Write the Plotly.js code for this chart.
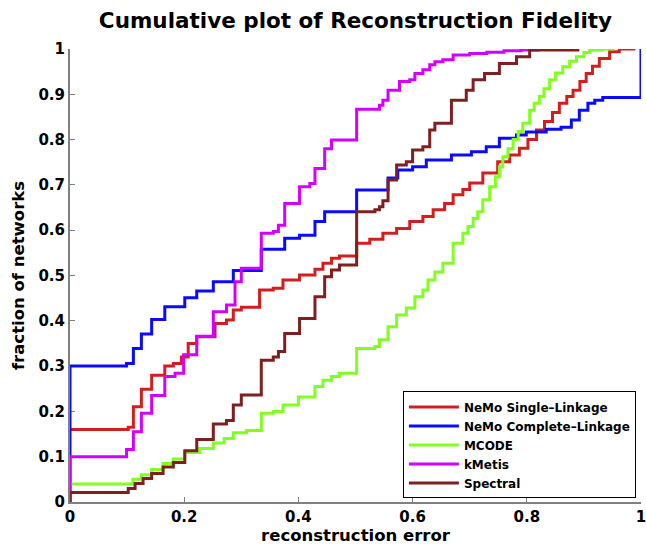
<!DOCTYPE html>
<html>
<head>
<meta charset="utf-8">
<script src="https://cdn.plot.ly/plotly-3.0.1.min.js"></script>
<style>html,body{margin:0;padding:0;background:#fff;}#chart{width:646px;height:550px;}</style>
</head>
<body>
<div id="chart"></div>
<script>
// NeMo Single-Linkage
const singleX = [0, 0.102, 0.111, 0.125, 0.143, 0.166, 0.181, 0.195, 0.207, 0.222, 0.254, 0.274, 0.286, 0.30, 0.332, 0.356, 0.373, 0.402, 0.429, 0.443, 0.458, 0.472, 0.502, 0.525, 0.548, 0.572, 0.595, 0.618, 0.636, 0.656, 0.671, 0.688, 0.70, 0.723, 0.749, 0.77, 0.787, 0.802, 0.817, 0.831, 0.845, 0.857, 0.87, 0.881, 0.893, 0.904, 0.915, 0.927, 0.945, 0.962, 0.99];
const singleY = [0.16, 0.165, 0.21, 0.249, 0.28, 0.30, 0.306, 0.32, 0.35, 0.365, 0.394, 0.402, 0.424, 0.43, 0.468, 0.472, 0.49, 0.501, 0.514, 0.527, 0.538, 0.543, 0.571, 0.58, 0.593, 0.604, 0.619, 0.63, 0.645, 0.659, 0.678, 0.69, 0.704, 0.726, 0.751, 0.766, 0.781, 0.80, 0.821, 0.84, 0.86, 0.88, 0.895, 0.909, 0.928, 0.946, 0.962, 0.979, 0.994, 1.0, 1.0];
// NeMo Complete-Linkage
const completeX = [0, 0, 0.099, 0.111, 0.125, 0.143, 0.166, 0.201, 0.222, 0.251, 0.286, 0.335, 0.376, 0.402, 0.429, 0.446, 0.502, 0.557, 0.574, 0.60, 0.624, 0.668, 0.703, 0.729, 0.752, 0.782, 0.799, 0.834, 0.86, 0.878, 0.892, 0.907, 0.919, 0.933, 1.0, 1.0];
const completeY = [0, 0.30, 0.306, 0.339, 0.371, 0.403, 0.431, 0.451, 0.466, 0.486, 0.511, 0.558, 0.582, 0.589, 0.619, 0.641, 0.689, 0.715, 0.733, 0.74, 0.755, 0.766, 0.773, 0.784, 0.803, 0.81, 0.817, 0.823, 0.827, 0.843, 0.865, 0.88, 0.887, 0.893, 0.893, 1.0];
// MCODE
const mcodeX = [0, 0.11, 0.125, 0.143, 0.163, 0.181, 0.201, 0.227, 0.251, 0.27, 0.286, 0.309, 0.335, 0.356, 0.373, 0.40, 0.429, 0.443, 0.458, 0.472, 0.502, 0.534, 0.542, 0.557, 0.572, 0.589, 0.604, 0.618, 0.627, 0.639, 0.653, 0.671, 0.688, 0.697, 0.706, 0.714, 0.723, 0.735, 0.745, 0.752, 0.758, 0.767, 0.776, 0.785, 0.793, 0.805, 0.813, 0.822, 0.83, 0.84, 0.85, 0.863, 0.875, 0.887, 0.9, 0.91, 0.933, 0.954];
const mcodeY = [0.04, 0.05, 0.06, 0.072, 0.085, 0.095, 0.109, 0.118, 0.13, 0.14, 0.153, 0.158, 0.196, 0.2, 0.214, 0.232, 0.255, 0.269, 0.277, 0.284, 0.339, 0.343, 0.358, 0.387, 0.413, 0.428, 0.453, 0.468, 0.49, 0.508, 0.527, 0.571, 0.593, 0.608, 0.626, 0.641, 0.667, 0.696, 0.718, 0.74, 0.762, 0.78, 0.80, 0.818, 0.836, 0.865, 0.88, 0.895, 0.912, 0.932, 0.947, 0.961, 0.973, 0.983, 0.992, 0.998, 1.0, 1.0];
// kMetis
const kmetisX = [0, 0, 0.099, 0.111, 0.125, 0.143, 0.166, 0.184, 0.199, 0.222, 0.251, 0.274, 0.289, 0.30, 0.335, 0.356, 0.365, 0.376, 0.402, 0.42, 0.429, 0.446, 0.458, 0.502, 0.542, 0.548, 0.557, 0.577, 0.595, 0.604, 0.618, 0.63, 0.639, 0.653, 0.671, 0.70, 0.73, 0.76, 0.79, 0.82, 0.85];
const kmetisY = [0, 0.10, 0.116, 0.155, 0.196, 0.235, 0.277, 0.284, 0.325, 0.366, 0.42, 0.435, 0.486, 0.516, 0.593, 0.597, 0.611, 0.659, 0.696, 0.703, 0.736, 0.78, 0.799, 0.867, 0.876, 0.887, 0.909, 0.928, 0.932, 0.946, 0.954, 0.965, 0.972, 0.976, 0.987, 0.99, 0.993, 0.996, 0.998, 1.0, 1.0];
// Spectral
const spectralX = [0, 0, 0.102, 0.114, 0.128, 0.143, 0.163, 0.181, 0.201, 0.222, 0.251, 0.274, 0.286, 0.30, 0.335, 0.356, 0.365, 0.376, 0.402, 0.429, 0.446, 0.458, 0.472, 0.502, 0.534, 0.542, 0.548, 0.557, 0.572, 0.589, 0.60, 0.618, 0.63, 0.639, 0.668, 0.694, 0.706, 0.726, 0.752, 0.782, 0.805, 0.892];
const spectralY = [0, 0.021, 0.03, 0.041, 0.052, 0.063, 0.077, 0.087, 0.113, 0.138, 0.172, 0.18, 0.214, 0.236, 0.313, 0.32, 0.332, 0.372, 0.405, 0.453, 0.497, 0.512, 0.523, 0.641, 0.645, 0.652, 0.665, 0.711, 0.744, 0.751, 0.777, 0.784, 0.821, 0.836, 0.887, 0.909, 0.932, 0.946, 0.968, 0.983, 0.998, 0.998];

const seriesNames = ["NeMo Single–Linkage", "NeMo Complete–Linkage", "MCODE", "kMetis", "Spectral"];
const seriesColors = ["#d41e1e", "#0a0aff", "#80ff20", "#d200ff", "#7f2020"];
const seriesX = [singleX, completeX, mcodeX, kmetisX, spectralX];
const seriesY = [singleY, completeY, mcodeY, kmetisY, spectralY];

const FONT = "'DejaVu Sans', sans-serif";

const traces = seriesNames.map((n, i) => ({
  type: "scatter", mode: "lines", name: n,
  x: seriesX[i], y: seriesY[i],
  line: {shape: "hv", color: seriesColors[i], width: 3},
  cliponaxis: false
}));

const layout = {
  width: 646, height: 550,
  margin: {l: 70, r: 5, t: 49, b: 48},
  paper_bgcolor: "#fff", plot_bgcolor: "#fff",
  font: {family: FONT, size: 15, color: "#000", weight: "bold"},
  title: {text: "Cumulative plot of Reconstruction Fidelity", x: 0.5, xref: "paper", y: 0.963, yref: "container", yanchor: "middle",
          font: {family: FONT, size: 21.5, color: "#000", weight: "bold"}},
  xaxis: {range: [0, 1], dtick: 0.2, tick0: 0, showgrid: false, zeroline: false, showline: true,
          linecolor: "#808080", linewidth: 2, ticks: "inside", ticklen: 5, tickcolor: "#808080", tickwidth: 1,
          layer: "below traces", ticklabeloverflow: "allow",
          tickfont: {family: FONT, size: 15, color: "#000", weight: "bold"},
          title: {text: "reconstruction error", standoff: 3, font: {family: FONT, size: 16.5, color: "#000", weight: "bold"}}},
  yaxis: {range: [0, 1], dtick: 0.1, tick0: 0, showgrid: false, zeroline: false, showline: true,
          linecolor: "#808080", linewidth: 2, ticks: "inside", ticklen: 5, tickcolor: "#808080", tickwidth: 1,
          layer: "below traces", ticklabeloverflow: "allow",
          tickfont: {family: FONT, size: 15, color: "#000", weight: "bold"},
          title: {text: "fraction of networks", standoff: 10, font: {family: FONT, size: 16.5, color: "#000", weight: "bold"}}},
  showlegend: true,
  legend: {x: 0.583, y: 0.008, xanchor: "left", yanchor: "bottom", bgcolor: "#fff",
           bordercolor: "#000", borderwidth: 1, tracegroupgap: 0, itemwidth: 50,
           font: {family: FONT, size: 12, color: "#000", weight: "bold"}}
};

Plotly.newPlot("chart", traces, layout, {displayModeBar: false, staticPlot: true});
</script>
</body>
</html>
